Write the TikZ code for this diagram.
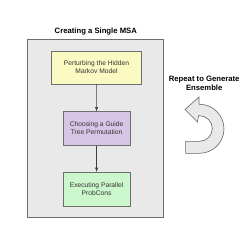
\documentclass[tikz,border=0pt]{standalone}
\usepackage{fontspec}
\setmainfont{Liberation Sans}
\definecolor{panelfill}{HTML}{E9E9E9}
\definecolor{panelline}{HTML}{6E6E6E}
\definecolor{yfill}{HTML}{FAFAC2}
\definecolor{pfill}{HTML}{D7C5E5}
\definecolor{gfill}{HTML}{CCF6CC}
\definecolor{txt}{HTML}{333333}
\begin{document}
\begin{tikzpicture}[x=1pt,y=-1pt,
  stepbox/.style={draw=panelline,line width=0.6pt,minimum height=33pt,align=center,
    font=\fontsize{6.7}{8}\selectfont,text=txt,inner sep=0pt},
  conn/.style={-latex,draw=black!75,line width=0.5pt},
  head/.style={font=\bfseries\fontsize{7.7}{9}\selectfont,align=center}]
\useasboundingbox (0,0) rectangle (250,250);
\node[draw=panelline,fill=panelfill,line width=0.7pt,minimum width=136.4pt,minimum height=178pt,inner sep=0pt] (panel) at (95.5,128.3) {};
\node[head] (title) at (95.8,31.7) {Creating a Single MSA};
\node[stepbox,fill=yfill,minimum width=89.6pt] (s1) at (96.5,67.3) {Perturbing the Hidden\\Markov Model};
\node[stepbox,fill=pfill,minimum width=66.7pt,minimum height=33.6pt] (s2) at (96.6,128.5) {Choosing a Guide\\Tree Permutation};
\node[stepbox,fill=gfill,minimum width=66.7pt,minimum height=34pt] (s3) at (96.6,189.3) {Executing Parallel\\ProbCons};
\draw[conn] (s1) -- (s2);
\draw[conn] (s2) -- (s3);
\node[head] (rep) at (204.2,83.2) {Repeat to Generate\\Ensemble};
% U-shaped return arrow
\draw[draw=black!60,fill=panelfill,line width=0.6pt,line join=miter]
  (185.7,153.3) -- (199.5,153.3) arc[start angle=90,end angle=-90,radius=24.5]
  -- (199,104) -- (199,97) -- (185,109.5) -- (197.5,122) -- (198.5,115.7)
  -- (199.5,115.7) arc[start angle=-90,end angle=90,radius=12.8]
  -- (185.7,141.3) -- cycle;
\end{tikzpicture}
\end{document}
